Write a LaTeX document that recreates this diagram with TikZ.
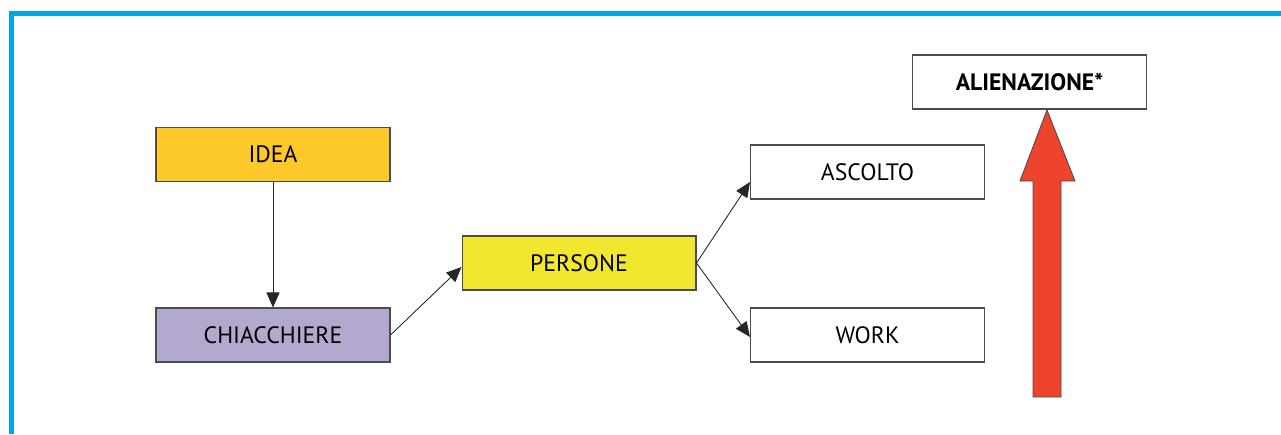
\documentclass[tikz,border=0pt]{standalone}
\usepackage{fontspec}
\setmainfont{PT Sans}
\usetikzlibrary{arrows.meta}
\definecolor{framecol}{HTML}{00A6DD}
\definecolor{ideacol}{HTML}{FDC82A}
\definecolor{chiacol}{HTML}{B3A8CE}
\definecolor{persocol}{HTML}{F0E72E}
\definecolor{redarrow}{HTML}{EE432C}
\tikzset{
  box/.style={draw=black!70, line width=0.6pt, minimum width=4.68cm, minimum height=1.08cm,
    inner sep=0pt, font=\fontsize{13.5}{16}\selectfont},
  link/.style={draw=black!85, line width=0.5pt, -{Triangle[length=0.3cm,width=0.26cm]}}
}
\begin{document}
\begin{tikzpicture}[x=0.02cm,y=-0.02cm]
  \useasboundingbox (0,0) rectangle (1281,434);
  % cornice
  \draw[framecol, line width=0.1cm] (11.5,434) -- (11.5,13.5) -- (1281,13.5);
  % caselle
  \node[box, fill=ideacol] (idea) at (273,154.5) {IDEA};
  \node[box, fill=chiacol] (chiac) at (273,335) {CHIACCHIERE};
  \node[box, fill=persocol] (persone) at (579,263) {PERSONE};
  \node[box, fill=white] (ascolto) at (867.5,172) {ASCOLTO};
  \node[box, fill=white] (work) at (867.5,335) {WORK};
  \node[box, fill=white, font=\fontsize{13.5}{16}\selectfont\bfseries] (alien) at (1029.5,82) {ALIENAZIONE*};
  % frecce
  \draw[link] (idea.south) -- (chiac.north);
  \draw[link] (chiac.east) -- ([yshift=-0.08cm]persone.west);
  \draw[link] (persone.east) -- ([yshift=-0.2cm]ascolto.west);
  \draw[link] (persone.east) -- ([yshift=-0.04cm]work.west);
  % freccia rossa
  \coordinate (tip) at (1047,110);
  \draw[black!70, line width=0.5pt, fill=redarrow]
    (tip) -- (1075,181) -- (1061,181) -- (1061,397) -- (1033,397) -- (1033,181) -- (1020,181) -- cycle;
\end{tikzpicture}
\end{document}
